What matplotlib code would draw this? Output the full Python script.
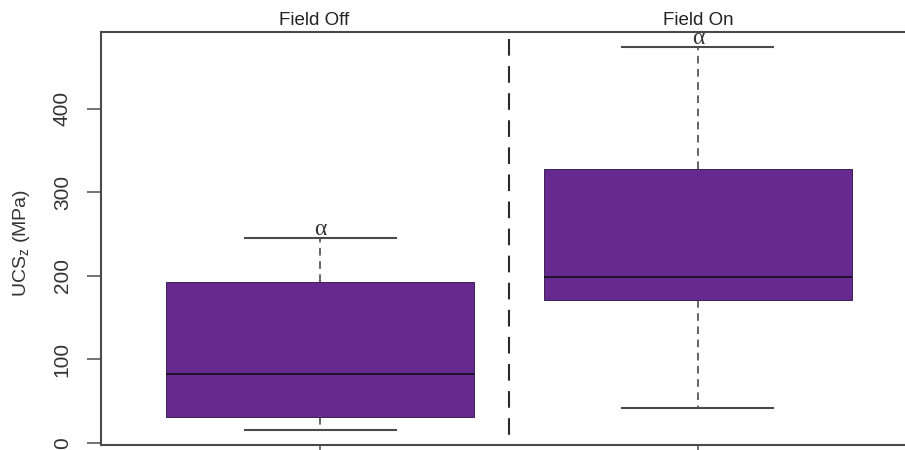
import matplotlib
matplotlib.use("Agg")
import matplotlib.pyplot as plt
import matplotlib.transforms as mtransforms

plt.rcParams['font.family'] = ['Liberation Sans', 'DejaVu Sans']
plt.rcParams['mathtext.default'] = 'regular'
plt.rcParams['lines.scale_dashes'] = False

# UCS_z summary per condition (MPa)
groups = ["Field Off", "Field On"]
q1 = [31, 171]
median = [83, 199]
q3 = [193, 328]
whisker_lo = [15.5, 42]
whisker_hi = [245, 474]
marks = ["\u03b1", "\u03b1"]

positions = [1, 2]
purple = "#66298f"
grey = "#4a4a4a"

stats = []
for i in range(len(groups)):
    stats.append(dict(med=median[i], q1=q1[i], q3=q3[i],
                      whislo=whisker_lo[i], whishi=whisker_hi[i], fliers=[]))

fig = plt.figure(figsize=(9.05, 4.5), dpi=100)
ax = fig.add_axes([101/905, 5/450, 816/905, 413/450])

ax.bxp(stats, positions=positions, widths=0.815, capwidths=0.40,
       patch_artist=True, showfliers=False,
       boxprops=dict(facecolor=purple, edgecolor="#3b2452", linewidth=0.7),
       medianprops=dict(color="#1a1020", linewidth=1.3),
       whiskerprops=dict(color="#3a3a3a", linewidth=1.1, linestyle=(0, (5.5, 4.0))),
       capprops=dict(color=grey, linewidth=1.5))

ax.set_xlim(0.42, 2.58)
ax.set_ylim(-2.4, 492)

# separator between the two conditions
ax.plot([1.5, 1.5], [484, -2.4], color="#2a2a2a", linewidth=1.5,
        linestyle=(0, (12, 7.5)), zorder=1)

# significance marks just above the upper whiskers
for x, top, m in zip(positions, whisker_hi, marks):
    ax.annotate(m, (x, top), xytext=(0, 2.5), textcoords="offset points",
                ha="center", va="baseline", fontsize=17, color="#333333",
                family=["Liberation Serif", "DejaVu Serif"])

# condition names across the top
trans = mtransforms.blended_transform_factory(ax.transData, ax.transAxes)
title_x = [0.985, 2.0]
for x, name in zip(title_x, groups):
    ax.text(x, 1.017, name, transform=trans, ha="center", va="baseline",
            fontsize=13.5, color="#222222")

ax.set_yticks([0, 100, 200, 300, 400])
ax.set_yticklabels(["0", "100", "200", "300", "400"], rotation=90, va="center",
                   fontsize=15, color="#333333")
ax.set_xticks(positions)
ax.set_xticklabels(["", ""])
ax.tick_params(axis="both", direction="out", length=10, width=1.1, color=grey, pad=11)

for side in ["left", "bottom", "top"]:
    ax.spines[side].set_color(grey)
    ax.spines[side].set_linewidth(1.5)
ax.spines["right"].set_visible(False)

fig.text(22/905, 1 - 243/450, "UCS$_z$ (MPa)", rotation=90, ha="center", va="center",
         fontsize=14, color="#333333")

fig.savefig("out.png", dpi=100, facecolor="white")
